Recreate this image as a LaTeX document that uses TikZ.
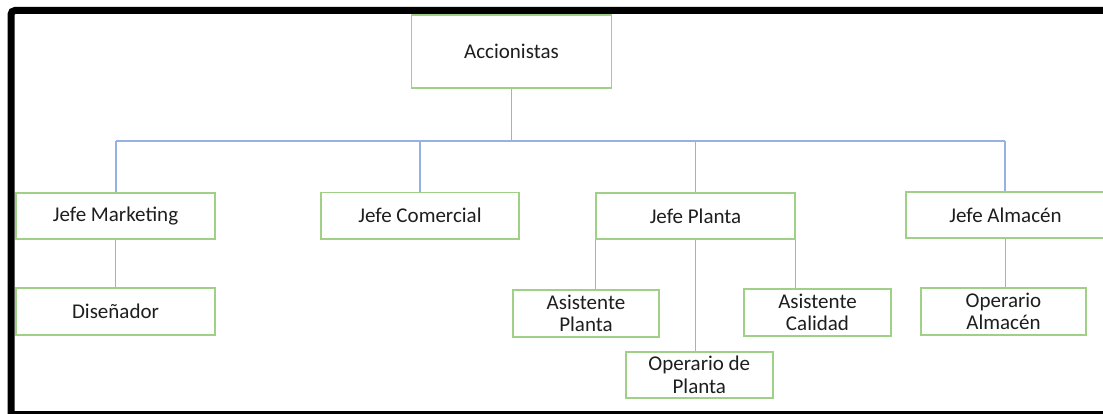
\documentclass[tikz,border=0pt]{standalone}
\usepackage{fontspec}
\setmainfont{Carlito}
\definecolor{boxgreen}{RGB}{160,208,136}
\definecolor{linkblue}{RGB}{150,178,226}
\definecolor{txt}{RGB}{30,30,30}
\tikzset{
  orgbox/.style={draw=boxgreen, line width=1.8pt, fill=white, rectangle, inner sep=0pt,
    align=center, text=txt, font=\fontsize{21}{22.5}\selectfont},
  conn/.style={draw=linkblue, line width=1.1pt},
  frameline/.style={draw=black, line width=7pt, rounded corners=4pt}
}
\begin{document}
\begin{tikzpicture}[x=1pt,y=-1pt]
\useasboundingbox (0,0) rectangle (1103,414);
\clip (0,0) rectangle (1103,414);
\fill[white] (0,0) rectangle (1103,414);
% frame
\draw[frameline] (11,420) -- (11,10.5) -- (1110,10.5);
\draw[black, line width=7pt] (7.5,414) -- (1110,414);
% nodes
\node[orgbox, minimum width=200pt, minimum height=73pt] (acc) at (511.5,51.5) {Accionistas};
\node[orgbox, minimum width=199pt, minimum height=46.5pt] (jm) at (115.5,216) {Jefe Marketing};
\node[orgbox, minimum width=198.5pt, minimum height=46.5pt] (jc) at (420,215.7) {Jefe Comercial};
\node[orgbox, minimum width=199pt, minimum height=46.5pt] (jp) at (695.5,216) {Jefe Planta};
\node[orgbox, minimum width=199pt, minimum height=46pt] (ja) at (1005.5,215.3) {Jefe Almacén};
\node[orgbox, minimum width=199pt, minimum height=46.5pt] (dis) at (115.5,311.6) {Diseñador};
\node[orgbox, minimum width=146pt, minimum height=46.5pt] (ap) at (586,313.5) {Asistente\\Planta};
\node[orgbox, minimum width=146.5pt, minimum height=46.5pt] (ac) at (817.5,312.4) {Asistente\\Calidad};
\node[orgbox, minimum width=147pt, minimum height=46.5pt] (op) at (699.3,375) {Operario de\\Planta};
\node[orgbox, minimum width=165pt, minimum height=46.5pt] (oa) at (1003.5,311.6) {Operario\\Almacén};
% bus
\coordinate (bL) at (116,141);
\coordinate (bR) at (1005,141);
\begin{scope}[on background layer/.try]
\end{scope}
\draw[conn] (acc.south) -- (acc.south |- bL);
\draw[conn] (bL) -- (bR);
\draw[conn] (bL) -- (bL |- jm.north);
\draw[conn] (jc.north |- bL) -- (jc.north);
\draw[conn] (jp.north |- bL) -- (jp.north);
\draw[conn] (bR) -- (bR |- ja.north);
\draw[conn] (jm.south) -- (jm.south |- dis.north);
\draw[conn] (jp.south west) -- (jp.south west |- ap.north);
\draw[conn] (jp.south east) -- (jp.south east |- ac.north);
\draw[conn] (jp.south) -- (jp.south |- op.north);
\draw[conn] (ja.south) -- (ja.south |- oa.north);
\end{tikzpicture}
\end{document}
